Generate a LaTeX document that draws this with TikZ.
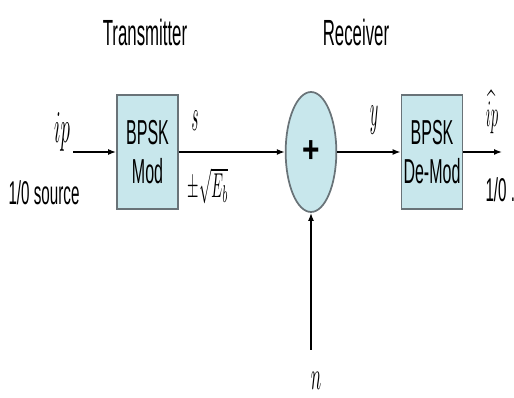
\documentclass[tikz,border=0pt]{standalone}
\usepackage{fontspec}
\setsansfont{Liberation Sans}
\usepackage{graphicx}
\usetikzlibrary{arrows.meta,shapes.geometric}

% squeezed text, as in the picture
\newcommand{\sqz}[1]{\scalebox{0.6}[1.3]{#1}}
\newcommand{\sqm}[1]{\scalebox{1.4}[3.4]{#1}}

\definecolor{blockfill}{RGB}{200,231,236}
\definecolor{blockline}{RGB}{105,115,120}

\tikzset{every picture/.style={line width=0.75pt}}
\tikzset{
  block/.style={draw=blockline,fill=blockfill,line width=1.3pt,inner sep=0pt,
    minimum width=45.75pt,minimum height=86pt,align=center,
    font=\sffamily\fontsize{20}{29}\selectfont},
  adder/.style={ellipse,draw=blockline,fill=blockfill,line width=1.3pt,inner sep=0pt,
    minimum width=38pt,minimum height=90pt,font=\sffamily\bfseries\fontsize{28}{30}\selectfont},
  flow/.style={-{Latex[length=6pt,width=4.5pt]},line width=1.1pt},
  title/.style={inner sep=0.75pt,font=\sffamily\fontsize{21}{24}\selectfont},
  sidetext/.style={inner sep=0.75pt,font=\sffamily\fontsize{19}{22}\selectfont},
  mathlabel/.style={inner sep=0.75pt}
}

\begin{document}
\begin{tikzpicture}[x=0.75pt,y=0.75pt,yscale=-1,xscale=1]
\useasboundingbox (0,0) rectangle (514,398);

%Blocks
\node [block] (mod) at (147.5,152) {\sqz{BPSK}\\\sqz{Mod}};
\node [adder] (sum) at (311,152) {\scalebox{0.8}[1]{+}};
\node [block] (demod) at (432,152) {\sqz{BPSK}\\\sqz{De-Mod}};

%Free ends
\coordinate (src) at (73,152);
\coordinate (dst) at (502,152);
\coordinate (noise) at (311,350);

%Connectors
\draw [flow] (src) -- (mod.west);
\draw [flow] (mod.east) -- (sum.west);
\draw [flow] (sum.east) -- (demod.west);
\draw [flow] (demod.east) -- (dst);
\draw [flow] (noise) -- (sum.south);

% Text Node
\node [title] (tx) at (145,32) {\sqz{Transmitter}};
% Text Node
\node [title] (rx) at (356,32) {\sqz{Receiver}};
% Text Node
\node [mathlabel] (ip) at (62,132) {\sqm{$ip$}};
% Text Node
\node [sidetext] (srclbl) at (44,193) {\sqz{1/0 source}};
% Text Node
\node [mathlabel] (s) at (195,121) {\scalebox{1.1}[3.4]{$s$}};
% Text Node
\node [mathlabel] (amp) at (208,186) {\scalebox{1.1}[2.6]{$\pm\sqrt{E_b}$}};
% Text Node
\node [mathlabel] (y) at (374,120) {\scalebox{1.2}[3.4]{$y$}};
% Text Node
\node [mathlabel] (iphat) at (492,112) {\scalebox{1.1}[2.8]{$\widehat{ip}$}};
% Text Node
\node [sidetext,anchor=west] (dstlbl) at (484,190) {\sqz{1/0 ..}};
% Text Node
\node [mathlabel] (n) at (316,381) {\scalebox{1.3}[3.0]{$n$}};

\end{tikzpicture}
\end{document}
